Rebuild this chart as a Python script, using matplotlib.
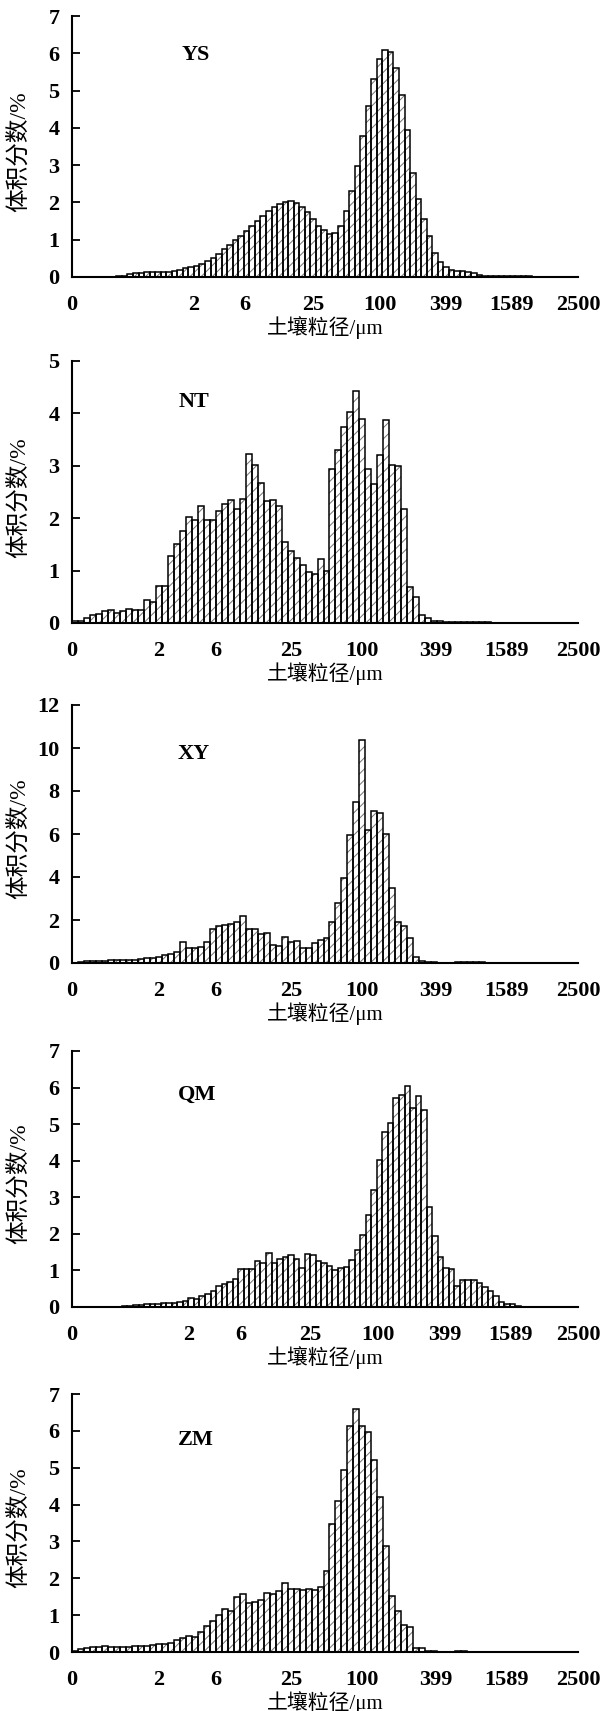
import matplotlib
matplotlib.use("Agg")
import matplotlib.pyplot as plt
from matplotlib.ticker import FixedLocator
import numpy as np

plt.rcParams['font.family'] = ['Liberation Serif', 'Noto Sans CJK SC']
plt.rcParams['hatch.color'] = '0.45'
plt.rcParams['hatch.linewidth'] = 0.7

# volume fraction (%) per size class
ys = [0, 0, 0, 0, 0, 0, 0, 0,
      0.02, 0.04, 0.07, 0.10, 0.12, 0.13, 0.13, 0.13, 0.13, 0.14,
      0.15, 0.19, 0.23, 0.26, 0.30, 0.36, 0.43, 0.52, 0.63, 0.74, 0.86, 0.98,
      1.10, 1.23, 1.37, 1.50, 1.63, 1.76, 1.87,
      1.97, 2.00, 2.03, 1.98, 1.88, 1.74, 1.56, 1.38, 1.25, 1.16,
      1.19, 1.38, 1.76, 2.30, 2.99, 3.78, 4.59, 5.30, 5.85, 6.10,
      6.04, 5.60, 4.87, 3.93, 2.80, 2.08, 1.56, 1.09, 0.65, 0.40,
      0.27, 0.20, 0.17, 0.15, 0.14, 0.12,
      0.05, 0.04, 0.04, 0.04, 0.03, 0.03, 0.03, 0.02, 0.02, 0.02]

nt = [0.04, 0.04, 0.10, 0.15, 0.18, 0.22, 0.25, 0.20, 0.23, 0.27,
      0.25, 0.25, 0.43, 0.40, 0.70, 0.70, 1.28, 1.50, 1.75, 2.02,
      1.97, 2.23, 1.96, 1.96, 2.14, 2.27, 2.34, 2.17, 2.37, 3.23,
      3.02, 2.68, 2.33, 2.35, 2.23, 1.55, 1.38, 1.25, 1.10, 0.97,
      0.93, 1.22, 1.00, 2.93, 3.30, 3.75, 4.03, 4.43, 3.90, 2.93,
      2.65, 3.20, 3.88, 3.02, 3.00, 2.18, 0.68, 0.50, 0.16, 0.10,
      0.04, 0.03, 0.02, 0.02, 0.01, 0.01, 0.01, 0.01, 0.01, 0.01,
      0.005, 0.005, 0.005, 0.005]

xy = [0.02, 0.03, 0.07, 0.07, 0.10, 0.10, 0.13, 0.13, 0.15, 0.15,
      0.12, 0.18, 0.23, 0.25, 0.30, 0.35, 0.42, 0.50, 0.96, 0.72,
      0.70, 0.75, 0.97, 1.60, 1.70, 1.75, 1.80, 1.90, 2.18, 1.60,
      1.58, 1.33, 1.40, 0.82, 0.78, 1.20, 0.97, 1.03, 0.72, 0.72,
      0.92, 1.05, 1.18, 1.90, 2.77, 3.95, 5.95, 7.50, 10.35, 6.20,
      7.05, 7.00, 6.00, 3.50, 1.90, 1.70, 1.17, 0.27, 0.10, 0.05,
      0.03, 0.02, 0.02, 0.02, 0.03, 0.05, 0.06, 0.05, 0.03, 0.01,
      0.01]

qm = [0, 0, 0, 0, 0, 0, 0, 0, 0,
      0.02, 0.04, 0.05, 0.06, 0.07, 0.08, 0.09, 0.10, 0.11, 0.12,
      0.15, 0.17, 0.25, 0.22, 0.30, 0.35, 0.45, 0.58, 0.62, 0.68,
      0.76, 1.05, 1.03, 1.03, 1.25, 1.20, 1.48, 1.20, 1.32, 1.37,
      1.43, 1.32, 1.07, 1.46, 1.42, 1.27, 1.21, 1.12, 1.00, 1.07,
      1.09, 1.29, 1.56, 1.96, 2.52, 3.21, 4.02, 4.78, 5.02, 5.71,
      5.79, 6.05, 5.43, 5.76, 5.38, 2.74, 1.94, 1.38, 1.07, 1.04,
      0.58, 0.73, 0.75, 0.73, 0.65, 0.56, 0.43, 0.29, 0.14, 0.09,
      0.07, 0.03]

zm = [0.04, 0.08, 0.12, 0.13, 0.14, 0.15, 0.14, 0.13, 0.13, 0.14,
      0.15, 0.15, 0.15, 0.18, 0.23, 0.23, 0.25, 0.32, 0.37, 0.43,
      0.41, 0.53, 0.70, 0.85, 1.00, 1.17, 1.12, 1.50, 1.58, 1.33,
      1.37, 1.40, 1.60, 1.57, 1.65, 1.88, 1.72, 1.70, 1.67, 1.72,
      1.68, 1.76, 2.20, 3.48, 4.09, 4.94, 6.12, 6.58, 6.12, 5.96,
      5.20, 4.20, 2.88, 1.51, 1.10, 0.73, 0.67, 0.11, 0.11, 0.04,
      0.03, 0.01, 0.01, 0.01, 0.02, 0.02, 0.01]

tick_labels = ['0', '2', '6', '25', '100', '399', '1589', '2500']
ticks_ys = [0, 22.0, 31.2, 43.5, 55.6, 67.4, 79.3, 91.3]
ticks_qm = [0, 21.0, 30.4, 42.9, 55.2, 67.2, 79.1, 91.3]
ticks_b = [0, 14.4, 24.0, 36.6, 48.5, 60.7, 72.5, 84.5]

# name, values, ymax, ystep, tick positions, label xy, (top px, bottom px)
panels = [
    ('YS', ys, 7, 1, ticks_ys, (0.245, 0.85), (16, 277)),
    ('NT', nt, 5, 1, ticks_b, (0.241, 0.845), (361, 623)),
    ('XY', xy, 12, 2, ticks_b, (0.241, 0.81), (705, 963)),
    ('QM', qm, 7, 1, ticks_qm, (0.248, 0.83), (1051, 1307)),
    ('ZM', zm, 7, 1, ticks_b, (0.245, 0.82), (1394, 1652)),
]

W, H = 610, 1711
fig = plt.figure(figsize=(W / 100, H / 100), dpi=100)
left, right = 72, 578

for name, vals, ymax, ystep, ticks, lab_xy, (top, bot) in panels:
    ax = fig.add_axes([left / W, (H - bot) / H, (right - left) / W, (bot - top) / H])
    x = np.arange(len(vals))
    ax.bar(x, vals, width=1, align='edge', color='white', edgecolor='0.45',
           hatch='///', linewidth=0)
    ax.bar(x, vals, width=1, align='edge', fill=False, edgecolor='black',
           linewidth=1.1)
    ax.set_xlim(0, ticks[-1])
    ax.set_ylim(0, ymax)

    ax.set_xticks(ticks)
    ax.set_xticklabels(tick_labels, fontweight='bold')
    ax.tick_params(axis='x', which='major', length=0, pad=13, labelsize=16)
    minor = [t for i, t in enumerate(ticks) if i not in (0, 2)]
    ax.xaxis.set_minor_locator(FixedLocator(minor))
    ax.tick_params(axis='x', which='minor', direction='in', length=6, width=1.3)

    yt = np.arange(0, ymax + 0.01, ystep)
    ax.set_yticks(yt)
    ax.set_yticklabels([f'{v:g}' for v in yt], fontweight='bold')
    ax.tick_params(axis='y', direction='in', length=6, width=1.3, pad=9,
                   labelsize=16)

    for s in ['top', 'right']:
        ax.spines[s].set_visible(False)
    for s in ['left', 'bottom']:
        ax.spines[s].set_linewidth(1.5)

    ax.set_xlabel('土壤粒径/μm', fontsize=15, labelpad=1)
    ax.set_ylabel('体积分数/%', fontsize=17)
    ax.yaxis.set_label_coords(-0.083, 0.48)
    ax.text(lab_xy[0], lab_xy[1], name, transform=ax.transAxes, fontsize=16,
            fontweight='bold', ha='center', va='center')

fig.savefig('out.png', dpi=100)
